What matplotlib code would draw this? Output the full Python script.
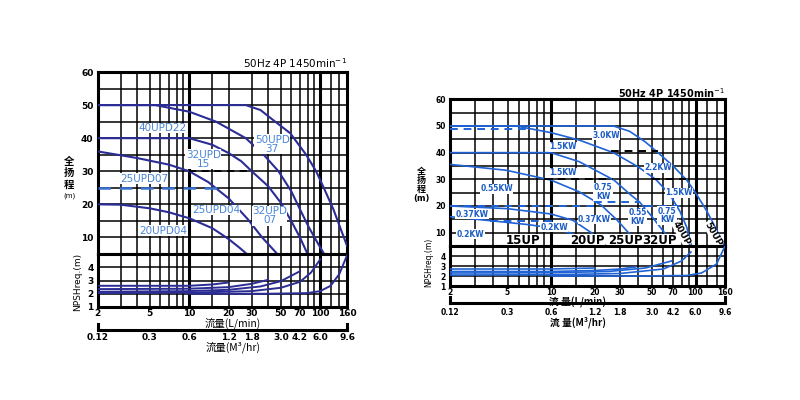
import matplotlib.pyplot as plt
from matplotlib.ticker import NullLocator

CJK = ['Noto Sans CJK SC', 'DejaVu Sans']
plt.rcParams['font.family'] = ['DejaVu Sans']

# ticks shared by both charts (flow in L/min, head in m)
flow_ticks = [2, 5, 10, 20, 30, 50, 70, 100, 160]
flow_m3_labels = ['0.12', '0.3', '0.6', '1.2', '1.8', '3.0', '4.2', '6.0', '9.6']
head_ticks = [10, 20, 30, 40, 50, 60]
npsh_ticks = [1, 2, 3, 4]

# ---- left chart: UPD series ----
upd50_37_q = [2, 27, 35, 42, 59, 78, 93, 105, 126, 145, 160]
upd50_37_h = [50, 50, 48.5, 46, 41.5, 35, 30, 25.5, 18.5, 12, 7.5]
upd40_22_q = [2, 5.5, 10, 16, 27, 37, 48, 60, 71, 82, 95, 107]
upd40_22_h = [50, 50, 48, 45, 40, 35, 30, 24, 18, 13, 8.5, 5]
upd32_15_q = [2, 10, 15, 20, 25, 30, 40, 50, 60, 70, 80]
upd32_15_h = [40, 40, 38, 35.5, 33, 30, 25.5, 20.5, 15, 10, 5]
upd25_04_q = [2, 4, 7, 10, 14, 20, 28, 36, 47]
upd25_04_h = [36, 34, 32, 30, 26.7, 21.8, 15.5, 10, 5]
upd20_04_q = [2, 3, 5, 7, 10, 15, 20, 24, 27.5]
upd20_04_h = [20, 19.9, 18.8, 17.6, 15.8, 12.8, 9.5, 7, 5]

left_head_q = [upd50_37_q, upd40_22_q, upd32_15_q, upd25_04_q, upd20_04_q]
left_head_h = [upd50_37_h, upd40_22_h, upd32_15_h, upd25_04_h, upd20_04_h]

# dashed limits: (q start, q end, head)
left_dash_blue = [(2, 16.5, 25)]
left_dash_black = [(10, 29, 30)]

left_npsh_q = [[2, 10, 15, 20],
               [2, 10, 20, 30, 40],
               [2, 10, 20, 35, 50, 70],
               [2, 10, 30, 50, 70, 85, 100],
               [10, 40, 80, 100, 120, 140, 160]]
left_npsh_v = [[2.6, 2.6, 2.7, 2.85],
               [2.35, 2.38, 2.5, 2.75, 3.05],
               [2.15, 2.2, 2.3, 2.55, 2.95, 3.7],
               [2.05, 2.08, 2.2, 2.45, 2.9, 3.6, 4.6],
               [2.0, 2.0, 2.05, 2.2, 2.6, 3.5, 4.9]]

left_labels = ['40UPD22', '50UPD\n37', '32UPD\n15', '25UPD07', '25UPD04', '32UPD\n07', '20UPD04']
left_label_q = [6.3, 43, 12.8, 4.5, 16, 41, 6.3]
left_label_h = [43.1, 38.1, 33.6, 27.7, 18.3, 16.6, 12.1]

# ---- right chart: UP series ----
up50_q = [2, 27, 35, 45, 55, 70, 87, 100, 120, 140, 158]
up50_h = [50, 50, 48, 44, 40, 35, 29.7, 25, 18, 11, 5]
up40_q = [2, 5.7, 10, 15.7, 27, 40, 53, 66, 78, 87, 94]
up40_h = [50, 50, 47.5, 44.7, 40, 34.7, 30, 24.5, 18, 12, 5]
up32_q = [2, 10, 15.7, 27.3, 35, 41, 50, 60, 71]
up32_h = [40, 40, 36.6, 29.7, 24.5, 21.5, 16, 10.5, 5]
up25_q = [2, 4.9, 10, 15.7, 22.3, 28.8, 35, 41]
up25_h = [35.6, 33.4, 29.7, 25.3, 20.3, 14.6, 9.5, 5]
up20_q = [2, 5, 10, 14.2, 19, 24]
up20_h = [20, 19, 17, 14.6, 10, 5]
up15_q = [2, 3.8, 7, 10, 14.2, 17]
up15_h = [16, 14.5, 13, 11.8, 9.6, 5]

right_head_q = [up50_q, up40_q, up32_q, up25_q, up20_q, up15_q]
right_head_h = [up50_h, up40_h, up32_h, up25_h, up20_h, up15_h]

right_dash_blue = [(2, 7, 49), (19.7, 40.8, 21.5), (2, 21, 20), (45, 80, 20), (3.8, 11, 14.5)]
right_dash_black = [(26, 55, 40.5), (9, 27, 30), (50, 86, 30)]

right_npsh_q = [[2, 10, 20],
                [2, 10, 20, 30, 38.5],
                [2, 10, 25, 45, 68],
                [2, 10, 30, 60, 80, 93],
                [10, 40, 87, 110, 140, 160]]
right_npsh_v = [[2.7, 2.7, 2.8],
                [2.45, 2.45, 2.55, 2.7, 2.9],
                [2.3, 2.32, 2.45, 2.8, 3.5],
                [2.1, 2.12, 2.25, 2.7, 3.5, 4.4],
                [2.0, 2.0, 2.05, 2.3, 3.2, 5.0]]

right_kw_labels = ['3.0KW', '1.5KW', '2.2KW', '1.5KW', '0.55KW', '0.75\nKW', '1.5KW',
                   '0.37KW', '0.55\nKW', '0.75\nKW', '0.37KW', '0.2KW', '0.2KW']
right_kw_q = [24.1, 12.1, 55.2, 12.1, 4.2, 22.9, 76.6, 2.84, 39.8, 63.6, 20, 10.5, 2.77]
right_kw_h = [46.6, 42.2, 34.3, 32.4, 26.5, 25.3, 24.9, 16.9, 15.9, 16.5, 14.9, 12, 9.4]

right_series = ['15UP', '20UP', '25UP', '32UP']
right_series_q = [6.35, 17.8, 32.6, 56.6]
right_series_h = [7.1, 7.1, 7.1, 7.1]
right_rot_series = ['40UP', '50UP']
right_rot_q = [80, 132]
right_rot_h = [9.8, 9.6]

GRID_X = [2, 3, 4, 5, 6, 7, 8, 9, 10, 15, 20, 30, 40, 50, 60, 70, 80, 90, 100, 120, 140]

fig = plt.figure(figsize=(8, 4), dpi=100)


def fx(px):
    return px / 800.0


def fy(py):
    return 1 - py / 400.0


def build_chart(x0, x1, top, split, bottom, cap_top, cap_bot, fs, tick_pad, m3_pad, glw):
    w = fx(x1) - fx(x0)
    ax_h = fig.add_axes([fx(x0), fy(split), w, fy(top) - fy(split)])
    ax_n = fig.add_axes([fx(x0), fy(bottom), w, fy(split) - fy(bottom)])
    ax_m = fig.add_axes([fx(x0), fy(cap_bot), w, fy(cap_top) - fy(cap_bot)])
    for ax in (ax_h, ax_n, ax_m):
        ax.set_xscale('log')
        ax.set_xlim(2, 160)
        ax.xaxis.set_minor_locator(NullLocator())
        ax.tick_params(length=0)
    ax_h.set_ylim(5, 60)
    ax_n.set_ylim(1, 5)
    for ax in (ax_h, ax_n):
        for q in GRID_X:
            lw = glw * 2.0 if q in (10, 100) else glw
            ax.axvline(q, color='black', lw=lw, zorder=1)
        for s in ax.spines.values():
            s.set_linewidth(2.2)
    for h in range(10, 60, 5):
        ax_h.axhline(h, color='black', lw=glw, zorder=1)
    for n in range(2, 5):
        ax_n.axhline(n, color='black', lw=glw, zorder=1)
    ax_h.set_xticks([])
    ax_h.set_yticks(head_ticks)
    ax_h.set_yticklabels([str(t) for t in head_ticks], fontsize=fs, fontweight='bold')
    ax_n.set_yticks(npsh_ticks)
    ax_n.set_yticklabels([str(t) for t in npsh_ticks], fontsize=fs, fontweight='bold')
    ax_n.set_xticks(flow_ticks)
    ax_n.set_xticklabels([str(t) for t in flow_ticks], fontsize=fs, fontweight='bold')
    ax_n.tick_params(axis='x', pad=tick_pad)
    ax_h.tick_params(axis='y', pad=3)
    ax_n.tick_params(axis='y', pad=3)
    # m3/hr scale drawn as a bare line with end caps
    ax_m.patch.set_visible(False)
    ax_m.spines['top'].set_visible(False)
    for k in ('left', 'right', 'bottom'):
        ax_m.spines[k].set_linewidth(2.2)
    ax_m.set_yticks([])
    ax_m.set_xticks(flow_ticks)
    ax_m.set_xticklabels(flow_m3_labels, fontsize=fs, fontweight='bold')
    ax_m.tick_params(axis='x', pad=m3_pad)
    return ax_h, ax_n


# ---------------- left chart ----------------
lh, ln = build_chart(97.7, 347, 72, 254, 307, 324, 330, 6.5, 1.5, 2, 1.1)
lc = '#2b2d95'
lt = '#4a86d8'
for q, h in zip(left_head_q, left_head_h):
    lh.plot(q, h, color=lc, lw=1.5, zorder=3)
for q0, q1, h in left_dash_blue:
    lh.plot([q0, q1], [h, h], color='#3a74d0', lw=1.8, ls=(0, (5, 3.5)), zorder=3)
for q0, q1, h in left_dash_black:
    lh.plot([q0, q1], [h, h], color='black', lw=1.3, ls=(0, (4, 3)), zorder=3)
for q, v in zip(left_npsh_q, left_npsh_v):
    ln.plot(q, v, color=lc, lw=1.4, zorder=3)
for txt, q, h in zip(left_labels, left_label_q, left_label_h):
    lh.text(q, h, txt, color=lt, fontsize=7.5, ha='center', va='center', linespacing=0.9,
            zorder=4, bbox=dict(facecolor='white', edgecolor='none', pad=0.3))

fig.text(fx(347), fy(63), '50Hz 4P 1450min$^{-1}$', fontsize=7.5, ha='right', va='center')
fig.text(fx(69), fy(173), '全\n扬\n程', family=CJK, fontsize=7.5, fontweight='bold',
         ha='center', va='center', linespacing=1.15)
fig.text(fx(69), fy(196), '(m)', fontsize=5, ha='center', va='center')
fig.text(fx(78), fy(282), 'NPSHreq.(m)', fontsize=6.5, rotation=90, ha='center', va='center')
fig.text(fx(233), fy(323.5), '流量(L/min)', family=CJK, fontsize=7.5, ha='center', va='center')
fig.text(fx(233), fy(347.5), '流量(M³/hr)', family=CJK, fontsize=7.5, ha='center', va='center')

# ---------------- right chart ----------------
rh, rn = build_chart(450, 725, 99.3, 246, 286, 297, 303, 5.5, 1.5, 3.5, 1.1)
rc = '#1f63d6'
rt = '#1a5bc4'
for q, h in zip(right_head_q, right_head_h):
    rh.plot(q, h, color=rc, lw=1.2, zorder=3)
for q0, q1, h in right_dash_blue:
    rh.plot([q0, q1], [h, h], color=rc, lw=1.4, ls=(0, (4, 3)), zorder=3)
for q0, q1, h in right_dash_black:
    rh.plot([q0, q1], [h, h], color='black', lw=1.4, ls=(0, (4, 3)), zorder=3)
for q, v in zip(right_npsh_q, right_npsh_v):
    rn.plot(q, v, color=rc, lw=1.2, zorder=3)
for txt, q, h in zip(right_kw_labels, right_kw_q, right_kw_h):
    rh.text(q, h, txt, color=rt, fontsize=5.5, fontweight='bold', ha='center', va='center',
            linespacing=0.95, zorder=4, bbox=dict(facecolor='white', edgecolor='none', pad=0.3))
for txt, q, h in zip(right_series, right_series_q, right_series_h):
    rh.text(q, h, txt, color='black', fontsize=8.5, fontweight='bold', ha='center', va='center',
            zorder=4, bbox=dict(facecolor='white', edgecolor='none', pad=0.2))
for txt, q, h in zip(right_rot_series, right_rot_q, right_rot_h):
    rh.text(q, h, txt, color='black', fontsize=6.5, fontweight='bold', ha='center', va='center',
            rotation=-60, zorder=4, bbox=dict(facecolor='white', edgecolor='none', pad=0.2))

fig.text(fx(725), fy(93), '50Hz 4P 1450min$^{-1}$', fontsize=7, fontweight='bold',
         ha='right', va='center')
fig.text(fx(421), fy(180.5), '全\n扬\n程', family=CJK, fontsize=6.5, fontweight='bold',
         ha='center', va='center', linespacing=1.0)
fig.text(fx(421), fy(198.5), '(m)', fontsize=6, fontweight='bold', ha='center', va='center')
fig.text(fx(429), fy(262), 'NPSHreq.(m)', fontsize=5.5, rotation=90, ha='center', va='center')
fig.text(fx(578), fy(302.5), '流 量(L/min)', family=CJK, fontsize=7, fontweight='bold',
         ha='center', va='center')
fig.text(fx(578), fy(322), '流 量(M³/hr)', family=CJK, fontsize=7, fontweight='bold',
         ha='center', va='center')

fig.savefig('out.png', dpi=100, facecolor='white')
